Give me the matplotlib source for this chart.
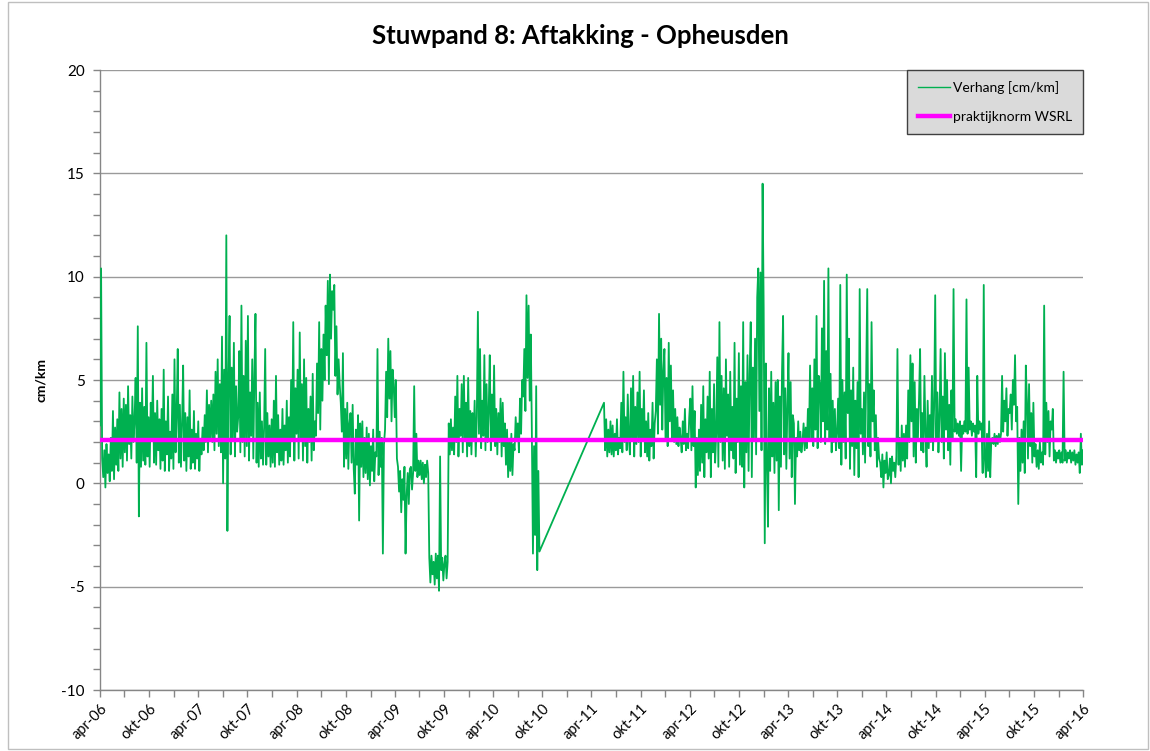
# -------------------------------------------------------------------------- #
# ---------------------------- Imported Modules ---------------------------- #

import numpy as np
import pandas as pd
import matplotlib
matplotlib.use("Agg")
import matplotlib.pyplot as plt
from matplotlib.patches import Rectangle

# ---------------------------------------------------------------------------#
# ---------------------------------- Data ---------------------------------- #

titleText = "Stuwpand 8: Aftakking - Opheusden"
yLabelText = "cm/km"
seriesName = "Verhang [cm/km]"
normName = "praktijknorm WSRL"
normValue = 2.1

firstStart, firstEnd = "2006-04-01", "2010-09-20"
secondStart, secondEnd = "2011-05-18", "2016-04-01"

firstValues = [
    2.8, 10.4, 1.2, 0.3, 1.6, -0.2, 1.9, 0.5,
    1.4, 0.1, 2.2, 0.6, 3.5, 0.2, 2.7, 0.9,
    3.1, 0.6, 4.4, 1.2, 3.6, 0.8, 4.1, 1.5,
    3.8, 1.1, 4.7, 1.9, 3.3, 1.2, 4.2, 2.0,
    3.0, 5.1, 1.0, 7.6, -1.6, 3.9, 0.8, 4.6,
    1.1, 3.7, 0.9, 6.8, 1.3, 3.2, 0.8, 3.9,
    2.2, 5.2, 1.0, 3.4, 0.9, 4.0, 1.6, 3.1,
    0.7, 3.6, 1.1, 5.5, 0.6, 3.0, 1.4, 4.2,
    0.6, 2.5, 1.2, 4.3, 0.7, 6.0, 1.5, 3.3,
    6.5, 1.0, 3.8, 0.8, 2.9, 5.7, 1.1, 3.4,
    0.6, 3.2, 1.3, 4.5, 0.7, 2.6, 1.0, 3.5,
    0.7, 2.4, 1.2, 3.0, 0.6, 2.1, 1.4, 2.7,
    1.6, 3.3, 2.0, 4.5, 1.5, 3.8, 2.2, 4.0,
    2.0, 4.3, 1.6, 5.4, 2.4, 6.0, 1.8, 4.8,
    1.5, 7.1, 0.0, 5.5, 1.2, 12.0, -2.3, 4.9,
    8.1, 1.4, 5.6, 2.2, 6.8, 1.3, 4.7, 2.5,
    3.2, 6.4, 1.5, 8.6, 2.0, 5.2, 1.3, 6.9,
    1.8, 8.1, 1.1, 4.4, 2.3, 6.0, 1.2, 5.3,
    8.2, 1.0, 3.9, 0.8, 4.4, 1.2, 3.0, 0.9,
    2.7, 6.5, 0.9, 3.4, 1.3, 2.8, 0.8, 3.1,
    1.0, 4.0, 0.8, 5.2, 1.5, 3.3, 0.9, 2.6,
    1.1, 3.6, 0.9, 2.8, 1.6, 4.0, 1.0, 3.2,
    1.3, 5.0, 2.1, 7.8, 1.1, 4.6, 2.4, 5.5,
    1.2, 7.3, 2.2, 4.8, 1.1, 6.0, 1.8, 5.1,
    1.0, 3.6, 2.0, 4.2, 1.1, 5.3, 1.6, 3.0,
    2.3, 5.8, 3.4, 7.8, 2.6, 6.5, 4.0, 7.2,
    5.0, 8.6, 6.2, 9.8, 4.8, 10.1, 7.0, 9.3,
    8.4, 9.6, 5.2, 7.6, 4.3, 6.0, 4.8, 3.9,
    2.5, 6.3, 0.8, 3.6, 1.2, 3.9, 0.7, 2.9,
    3.4, 1.0, 3.8, 0.7, -0.5, 2.6, 0.9, 3.3,
    -1.8, 2.9, 0.8, 3.0, 0.3, 2.2, 0.5, 2.7,
    0.2, 2.4, -0.1, 1.8, 0.6, 2.6, 0.1, 1.5,
    1.3, 6.5, 0.4, 2.5, 0.8, 2.2, -3.4, 1.9,
    2.6, 5.4, 3.2, 7.0, 4.1, 6.4, 3.0, 5.5,
    4.8, 3.2, 5.0, 1.2, 0.8, -0.4, 0.6, -1.4,
    0.2, -0.8, 0.8, -3.4, -0.6, 0.5, -1.0, 0.7,
    0.8, -0.3, 0.5, 4.7, 0.6, 2.4, 0.3, 1.1,
    0.4, 1.1, 0.2, 1.0, 0.0, 0.9, 0.3, 1.1,
    0.5, -3.6, -4.8, -3.5, -4.4, -3.8, -4.9, -3.4,
    -4.6, -3.5, -5.2, 1.3, -4.2, -3.6, -4.7, -3.9,
    -3.5, -4.6, -3.8, 2.9, 1.4, 3.1, 1.6, 2.7,
    1.4, 4.2, 2.0, 5.2, 1.3, 3.6, 2.3, 4.8,
    1.5, 5.2, 2.2, 3.9, 1.3, 5.1, 1.8, 3.5,
    1.4, 3.4, 2.1, 4.0, 1.3, 3.2, 8.3, 2.4,
    6.5, 1.7, 4.0, 2.3, 6.2, 1.6, 4.8, 2.0,
    3.5, 6.2, 1.6, 4.3, 2.1, 5.7, 1.8, 3.6,
    1.4, 3.4, 2.0, 4.1, 1.3, 3.9, 1.8, 2.9,
    0.9, 2.6, 0.3, 2.0, 0.6, 2.4, 0.4, 1.9,
    1.6, 3.2, 2.1, 2.9, 1.5, 4.1, 2.4, 5.0,
    4.2, 6.5, 3.5, 9.1, 5.1, 8.6, 4.0, 7.2,
    2.4, -3.4, 1.8, -2.5, 4.7, -4.2, 0.6, -3.3,
]

secondValues = [
    3.9, 1.6, 3.1, 1.3, 2.6, 1.5, 3.0, 1.4,
    2.8, 1.3, 2.4, 1.6, 3.1, 1.4, 2.2, 1.7,
    3.9, 1.5, 5.4, 2.0, 3.2, 1.6, 4.3, 2.2,
    1.4, 4.6, 2.1, 5.2, 1.3, 3.7, 1.9, 4.4,
    2.0, 5.4, 1.3, 3.6, 2.2, 4.5, 1.5, 3.0,
    1.3, 3.4, 1.1, 2.6, 1.8, 3.9, 1.2, 2.9,
    3.5, 6.0, 2.4, 8.2, 3.8, 7.0, 2.6, 5.4,
    6.5, 2.2, 5.1, 1.8, 6.8, 3.0, 5.7, 2.1,
    4.5, 2.0, 3.6, 1.9, 3.2, 1.8, 2.7, 2.2,
    1.5, 3.0, 1.9, 3.6, 1.6, 2.4, 1.7, 3.2,
    4.1, 1.6, 4.7, 1.8, 3.5, -0.2, 2.2, 0.4,
    2.6, 0.6, 3.8, 1.0, 4.7, 0.3, 3.1, 1.5,
    4.2, 1.2, 5.4, 0.3, 3.6, 1.5, 4.8, 1.0,
    2.4, 6.1, 0.8, 7.8, 2.0, 5.2, 1.1, 4.6,
    0.7, 6.0, 2.3, 4.3, 0.8, 5.4, 1.6, 3.7,
    1.2, 6.8, 0.5, 4.1, 2.0, 6.3, 0.9, 4.7,
    0.8, 7.8, -0.2, 4.9, 1.5, 6.2, 0.6, 5.3,
    7.8, 0.3, 5.6, 2.2, 7.0, 1.4, 9.0, 10.4,
    3.5, 10.2, 1.6, 14.5, 8.5, -2.9, 5.8, 0.9,
    -2.1, 4.6, 0.6, 5.4, 1.3, 3.9, 0.5, 4.9,
    1.1, 5.0, -1.3, 4.2, 0.8, 5.4, 8.1, 1.4,
    4.6, 0.7, 3.8, 6.3, 1.2, 4.9, 0.3, 3.3,
    2.9, -1.0, 2.2, 1.3, 3.0, 1.6, 2.5, 1.5,
    2.0, 2.9, 1.6, 2.7, 1.7, 3.6, 2.2, 5.7,
    2.1, 4.6, 1.8, 6.0, 2.6, 8.1, 1.7, 5.2,
    4.8, 2.0, 7.5, 3.0, 9.8, 1.9, 6.4, 2.6,
    10.4, 2.2, 5.3, 1.5, 4.0, 2.0, 3.6, 1.6,
    2.4, 4.1, 1.7, 9.6, 0.9, 5.0, 2.0, 4.4,
    1.2, 10.1, 3.4, 7.0, 0.7, 4.5, 1.8, 5.6,
    0.4, 4.0, 1.7, 4.9, 0.3, 9.4, 2.4, 3.6,
    1.4, 4.4, 1.0, 5.4, 9.4, 1.8, 4.8, 1.3,
    7.8, 3.0, 4.5, 1.6, 3.3, 0.8, 2.2, 1.2,
    1.0, 0.3, 1.4, -0.2, 1.1, 0.5, 1.5, 0.2,
    0.4, 1.2, 0.0, 1.3, 0.6, 1.0, 0.3, 1.3,
    6.5, 0.9, 2.2, 0.6, 2.8, 1.1, 2.4, 0.8,
    2.8, 1.2, 4.5, 2.0, 6.2, 3.0, 5.8, 1.3,
    4.9, 1.0, 3.6, 2.2, 4.1, 6.5, 1.6, 3.4,
    1.5, 5.2, 2.4, 0.8, 4.0, 1.7, 3.3, 2.0,
    5.2, 1.6, 3.7, 9.1, 2.1, 4.4, 1.5, 3.2,
    6.5, 2.0, 4.2, 1.2, 6.3, 2.6, 5.0, 1.6,
    3.8, 0.9, 4.5, 2.2, 9.4, 2.5, 3.1, 2.4,
    2.9, 2.3, 3.0, 0.6, 2.8, 2.4, 3.0, 2.5,
    8.9, 2.4, 5.6, 2.6, 3.0, 2.3, 2.9, 2.5,
    2.8, 0.3, 5.2, 2.4, 3.0, 2.6, 2.9, 0.5,
    9.6, 1.2, 0.3, 2.4, 0.6, 3.0, 0.3, 2.1,
    2.2, 1.9, 2.4, 1.8, 2.3, 1.9, 2.4, 2.0,
    2.4, 5.2, 2.5, 4.0, 3.0, 4.6, 2.3, 3.6,
    3.4, 4.3, 2.6, 5.0, 3.8, 6.2, 3.0, 3.7,
    -1.0, 2.2, 0.6, 2.6, 1.0, 3.0, 0.5, 5.7,
    4.0, 1.2, 4.8, 1.8, 3.4, 1.0, 3.9, 1.3,
    1.9, 0.8, 1.6, 0.7, 2.0, 1.0, 1.5, 0.9,
    8.6, 1.4, 3.9, 2.0, 3.5, 1.3, 3.0, 2.6,
    3.6, 1.1, 1.6, 1.0, 1.5, 1.2, 1.6, 1.0,
    1.5, 1.0, 5.4, 1.1, 1.6, 1.0, 1.5, 1.2,
    1.6, 1.0, 1.5, 1.1, 1.6, 0.9, 1.4, 1.0,
    1.5, 0.5, 2.4, 0.9, 1.6,
]

dutchMonths = {4: "apr", 10: "okt"}
axisStart, axisEnd = "2006-04-01", "2016-04-01"

# ---------------------------------------------------------------------------#
# ------------------------------ Time Axis  -------------------------------- #

firstDates = pd.date_range(firstStart, firstEnd, periods=len(firstValues))
secondDates = pd.date_range(secondStart, secondEnd, periods=len(secondValues))
allDates = firstDates.append(secondDates)
allValues = np.array(firstValues + secondValues)

majorDates = pd.date_range(axisStart, axisEnd, freq="6MS")
minorDates = pd.date_range(axisStart, axisEnd, freq="3MS")
majorLabels = [dutchMonths[d.month] + "-" + d.strftime("%y") for d in majorDates]

# ---------------------------------------------------------------------------#
# ---------------------------- Plot the Chart ------------------------------ #

plt.rcParams["font.family"] = ["Lato", "DejaVu Sans"]
plt.rcParams["axes.unicode_minus"] = False
axisGray = "#868686"

fig = plt.figure(figsize=(11.5, 7.51), dpi=100)
ax = fig.add_axes([100/1150, 1 - 690/751, 983/1150, 620/751])

ax.plot(allDates, allValues, color="#00b050", linewidth=1.3, label=seriesName, zorder=3)
ax.axhline(normValue, color="#ff00ff", linewidth=3.2, label=normName, zorder=4)

ax.set_xlim(pd.Timestamp(axisStart), pd.Timestamp(axisEnd))
ax.set_ylim(-10, 20)
ax.set_yticks(np.arange(-10, 21, 5))
ax.set_yticks(np.arange(-10, 21, 1), minor=True)
ax.set_xticks(majorDates)
ax.set_xticks(minorDates, minor=True)
ax.set_xticklabels(majorLabels, rotation=45, ha="right", rotation_mode="anchor", fontsize=10.5)
ax.tick_params(axis="y", labelsize=11, pad=6)
ax.tick_params(which="both", direction="out", length=5, color=axisGray, width=1)

ax.grid(axis="y", which="major", color="#9a9a9a", linewidth=1.0, zorder=0)
ax.set_axisbelow(True)
for side in ["top", "right"]:
    ax.spines[side].set_visible(False)
for side in ["left", "bottom"]:
    ax.spines[side].set_color(axisGray)
    ax.spines[side].set_linewidth(1.0)

ax.set_ylabel(yLabelText, fontsize=10, fontweight="bold", labelpad=10)
fig.text(580/1150, 1 - 36/751, titleText, ha="center", va="center", fontsize=18.5, fontweight="bold")

legend = ax.legend(loc="upper right", bbox_to_anchor=(1.0, 1.0), borderaxespad=0.0,
                   fontsize=10, frameon=True, fancybox=False, handlelength=2.3,
                   handletextpad=0.2, labelspacing=1.2, borderpad=0.8)
legend.get_frame().set_facecolor("#dadada")
legend.get_frame().set_edgecolor("#404040")
legend.get_frame().set_linewidth(1.0)
legend.get_frame().set_alpha(1.0)
legend.get_lines()[0].set_linewidth(1.0)

# Light outer chart border
fig.patches.append(Rectangle((8/1150, 0.002), 1 - 10/1150, 0.995, transform=fig.transFigure,
                             fill=False, edgecolor="#bfbfbf", linewidth=1.0))

fig.savefig("out.png", dpi=100)
